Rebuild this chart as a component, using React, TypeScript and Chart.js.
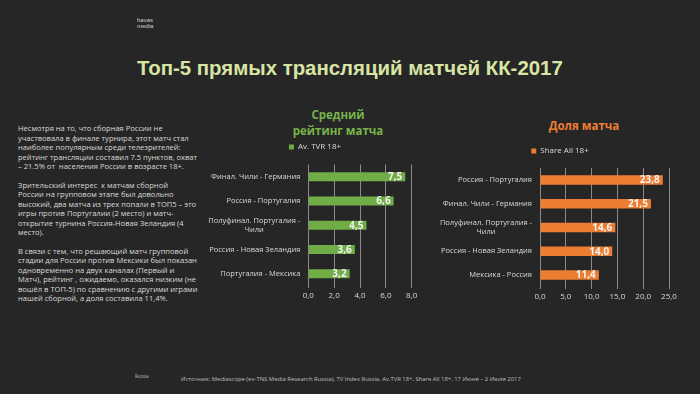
import React, { useEffect, useRef } from "react";
import { Chart, registerables } from "chart.js";

Chart.register(...registerables);

const tvrCategories: (string | string[])[] = [
  "Финал. Чили - Германия",
  "Россия - Португалия",
  ["Полуфинал. Португалия -", "Чили"],
  "Россия - Новая Зеландия",
  "Португалия - Мексика",
];
const tvrValues = [7.5, 6.6, 4.5, 3.6, 3.2];
const tvrTicks = [0, 2, 4, 6, 8];

const shareCategories: (string | string[])[] = [
  "Россия - Португалия",
  "Финал. Чили - Германия",
  ["Полуфинал. Португалия -", "Чили"],
  "Россия - Новая Зеландия",
  "Мексика - Россия",
];
const shareValues = [23.8, 21.5, 14.6, 14.0, 11.4];
const shareTicks = [0, 5, 10, 15, 20, 25];

const bodyLines = [
  "Несмотря на то, что сборная России не",
  "участвовала в финале турнира, этот матч стал",
  "наиболее популярным среди телезрителей:",
  "рейтинг трансляции составил 7.5 пунктов, охват",
  "– 21.5% от  населения России в возрасте 18+.",
  "",
  "Зрительский интерес  к матчам сборной",
  "России на групповом этапе был довольно",
  "высокий, два матча из трех попали в ТОП5 – это",
  "игры против Португалии (2 место) и матч-",
  "открытие турнина Россия-Новая Зеландия (4",
  "место).",
  "",
  "В связи с тем, что решающий матч групповой",
  "стадии для России против Мексики был показан",
  "одновременно на двух каналах (Первый и",
  "Матч), рейтинг , ожидаемо, оказался низким (не",
  "вошёл в ТОП-5) по сравнению с другими играми",
  "нашей сборной, а доля составила 11,4%.",
];

const FONT = "'Open Sans', 'DejaVu Sans', sans-serif";
const BG = "#262626";
const GRID = "#8a8a8a";
const LABEL = "#d9d9d9";
const CAT_SIZE = 7.5;

const fmt = (v: number) => v.toFixed(1).replace(".", ",");

const valueLabels = {
  id: "valueLabels",
  afterDatasetsDraw(chart: any) {
    const ctx = chart.ctx;
    const meta = chart.getDatasetMeta(0);
    const data = chart.data.datasets[0].data as number[];
    ctx.save();
    ctx.font = `bold 10px ${FONT}`;
    ctx.fillStyle = "#f2f2f2";
    ctx.textAlign = "right";
    ctx.textBaseline = "middle";
    meta.data.forEach((bar: any, i: number) => {
      ctx.fillText(fmt(data[i]), bar.x - 3, bar.y + 0.5);
    });
    ctx.restore();
  },
};

const legendShift = {
  id: "legendShift",
  afterLayout(chart: any, _args: any, opts: any) {
    const lg = chart.legend;
    if (!lg) return;
    const cur = (lg.left + lg.right) / 2;
    const d = opts.center - cur;
    lg.left += d;
    lg.right += d;
  },
};

// Category labels drawn Excel-style: block right-aligned to the axis,
// lines of a wrapped label centred within the block.
const catLabels = {
  id: "catLabels",
  afterDatasetsDraw(chart: any) {
    const y = chart.scales.y;
    const labels = chart.data.labels as (string | string[])[];
    const ctx = chart.ctx;
    ctx.save();
    ctx.font = `${CAT_SIZE}px ${FONT}`;
    ctx.fillStyle = LABEL;
    ctx.textBaseline = "middle";
    ctx.textAlign = "center";
    const right = chart.chartArea.left - 8;
    const lh = CAT_SIZE * 1.2;
    labels.forEach((c, i) => {
      const lines = Array.isArray(c) ? c : [c];
      const widths = lines.map((l) => ctx.measureText(l).width);
      const maxW = Math.max(...widths);
      const cy = y.getPixelForValue(i);
      const top = cy - ((lines.length - 1) * lh) / 2;
      lines.forEach((l, k) => {
        ctx.fillText(l, right - maxW / 2, top + k * lh);
      });
    });
    ctx.restore();
  },
};

type Cfg = {
  categories: (string | string[])[];
  values: number[];
  ticks: number[];
  label: string;
  color: string;
  padR: number;
  yWidth: number;
  spacer: number;
  barPct: number;
  legendCenter: number;
};

function BarChart(props: Cfg & { style: React.CSSProperties; w: number; h: number }) {
  const ref = useRef<HTMLCanvasElement>(null);
  useEffect(() => {
    if (!ref.current) return;
    const maxV = props.ticks[props.ticks.length - 1];
    const step = props.ticks[1] - props.ticks[0];
    const chart = new Chart(ref.current, {
      type: "bar",
      data: {
        labels: props.categories,
        datasets: [
          {
            label: props.label,
            data: props.values,
            backgroundColor: props.color,
            borderWidth: 0,
            barPercentage: props.barPct,
            categoryPercentage: 1,
          },
        ],
      },
      options: {
        indexAxis: "y",
        animation: false,
        responsive: false,
        devicePixelRatio: 1,
        layout: { padding: { left: 0, right: props.padR, top: 0, bottom: 0 } },
        plugins: {
          legend: {
            display: true,
            position: "top",
            labels: {
              boxWidth: 5,
              boxHeight: 5,
              padding: 6,
              color: LABEL,
              font: { family: FONT, size: 8 },
            },
          },
          subtitle: {
            display: true,
            text: "",
            weight: 500,
            position: "top",
            font: { size: 1 },
            padding: { top: 0, bottom: props.spacer - 1.2 },
          },
          tooltip: { enabled: false },
          legendShift: { center: props.legendCenter },
        } as any,
        scales: {
          x: {
            min: 0,
            max: maxV,
            ticks: {
              stepSize: step,
              color: LABEL,
              font: { family: FONT, size: 8 },
              padding: 3,
              callback: (v: any) => fmt(Number(v)),
            },
            grid: { color: GRID, lineWidth: 1, drawTicks: true, tickLength: 2 },
            border: { display: false },
            afterFit: (s: any) => {
              s.height = 20;
            },
          },
          y: {
            ticks: { display: false },
            grid: { display: false, drawTicks: false },
            border: { display: false },
            afterFit: (s: any) => {
              s.width = props.yWidth;
            },
          },
        },
      },
      plugins: [valueLabels, legendShift, catLabels],
    });
    return () => chart.destroy();
  }, []);
  return (
    <canvas
      ref={ref}
      width={props.w}
      height={props.h}
      style={{ position: "absolute", width: props.w, height: props.h, ...props.style }}
    />
  );
}

export default function App() {
  return (
    <div
      style={{
        position: "fixed",
        left: 0,
        top: 0,
        width: 700,
        height: 394,
        background: BG,
        overflow: "hidden",
        fontFamily: FONT,
      }}
    >
      <div
        style={{
          position: "absolute",
          left: 137,
          top: 16.6,
          fontSize: 6,
          lineHeight: "6.7px",
          color: "#cfcfcf",
          fontFamily: "'Liberation Sans', Arial, sans-serif",
        }}
      >
        havas
        <br />
        media
      </div>
      <div
        style={{
          position: "absolute",
          left: 137,
          top: 55.5,
          fontSize: 20.4,
          lineHeight: "24px",
          fontWeight: "bold",
          color: "#d8e4a4",
          whiteSpace: "nowrap",
          fontFamily: "'Liberation Sans', Arial, sans-serif",
        }}
      >
        Топ-5 прямых трансляций матчей КК-2017
      </div>
      <div
        style={{
          position: "absolute",
          left: 18,
          top: 124.3,
          fontSize: 7.55,
          lineHeight: "9.44px",
          color: LABEL,
          whiteSpace: "pre",
        }}
      >
        {bodyLines.map((l, i) => (
          <div key={i} style={{ height: 9.44 }}>
            {l}
          </div>
        ))}
      </div>
      <div
        style={{
          position: "absolute",
          left: 238,
          top: 107,
          width: 200,
          textAlign: "center",
          fontSize: 11.5,
          lineHeight: "15.7px",
          fontWeight: "bold",
          color: "#77b34a",
        }}
      >
        Средний
        <br />
        рейтинг матча
      </div>
      <div
        style={{
          position: "absolute",
          left: 484,
          top: 118,
          width: 200,
          textAlign: "center",
          fontSize: 11.5,
          lineHeight: "15.7px",
          fontWeight: "bold",
          color: "#ed7d31",
        }}
      >
        Доля матча
      </div>
      <BarChart
        categories={tvrCategories}
        values={tvrValues}
        ticks={tvrTicks}
        label="Av. TVR 18+"
        color="#70ad47"
        padR={18.3}
        yWidth={108.3}
        spacer={3.5}
        barPct={0.37}
        legendCenter={115}
        w={230}
        h={169}
        style={{ left: 200, top: 137 }}
      />
      <BarChart
        categories={shareCategories}
        values={shareValues}
        ticks={shareTicks}
        label="Share All 18+"
        color="#ed7d31"
        padR={31}
        yWidth={120}
        spacer={3}
        barPct={0.4}
        legendCenter={140}
        w={280}
        h={166}
        style={{ left: 420, top: 141 }}
      />
      <div
        style={{
          position: "absolute",
          left: 135,
          top: 373,
          fontSize: 4.5,
          lineHeight: "6px",
          color: "#bfbfbf",
        }}
      >
        Russia
      </div>
      <div
        style={{
          position: "absolute",
          left: 181,
          top: 374.5,
          fontSize: 5.9,
          lineHeight: "9px",
          color: "#bfbfbf",
          whiteSpace: "nowrap",
        }}
      >
        Источник: Mediascope (ex-TNS Media Research Russia), TV Index Russia, Av.TVR 18+, Share All 18+, 17 Июня – 2 Июля 2017
      </div>
    </div>
  );
}
